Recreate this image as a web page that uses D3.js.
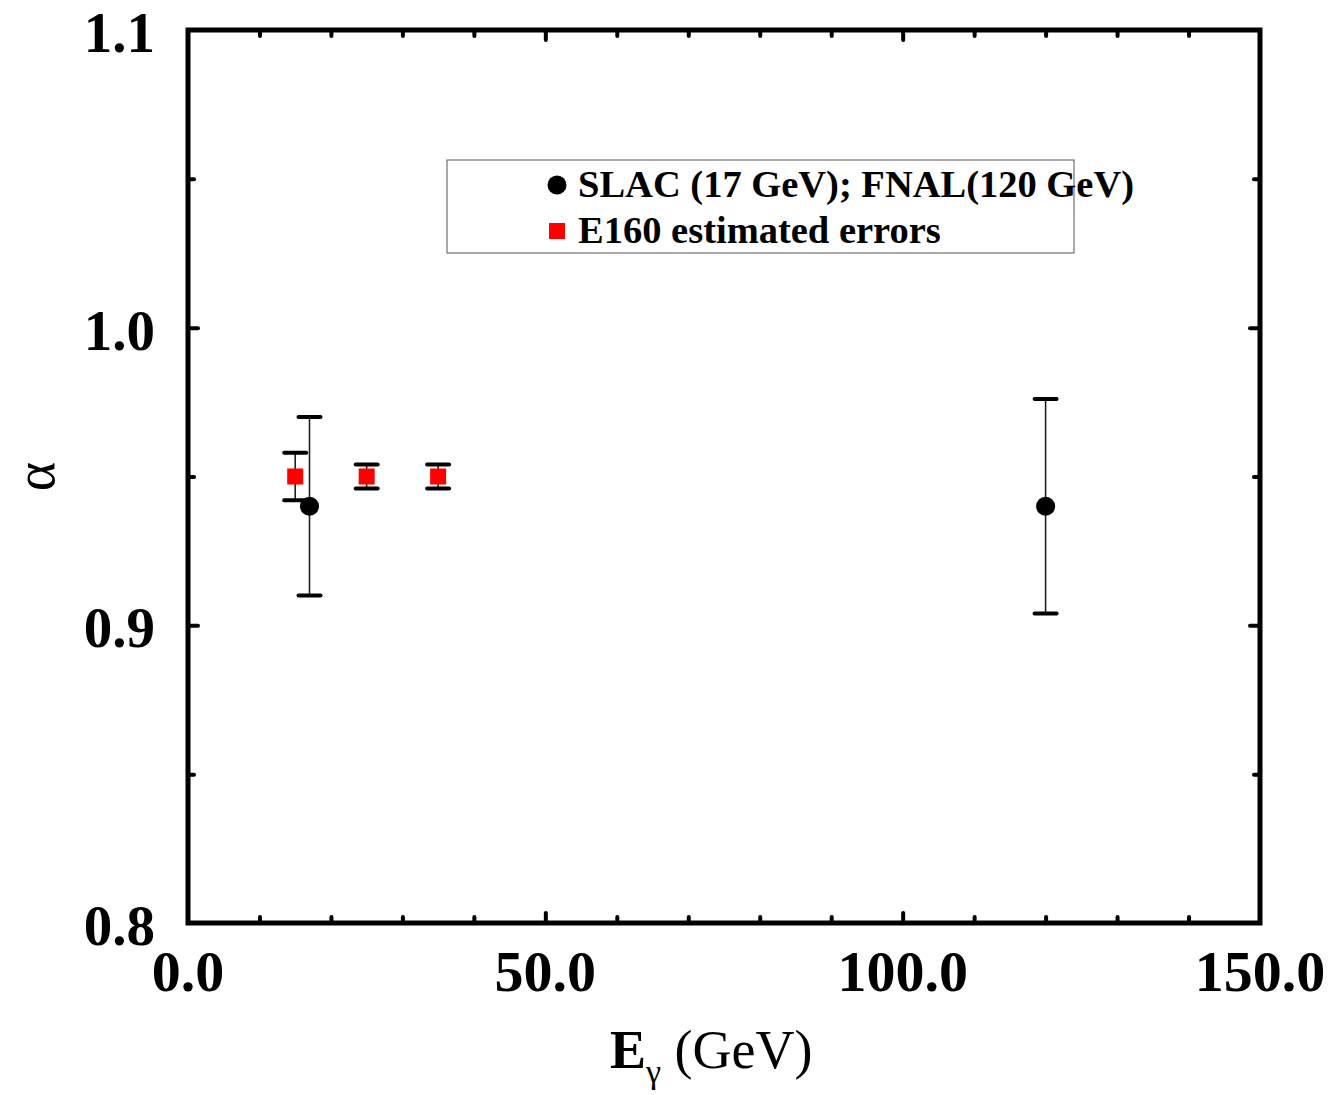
<!DOCTYPE html>
<html>
<head>
<meta charset="utf-8">
<script src="https://cdn.jsdelivr.net/npm/d3@7"></script>
<style>
  body { margin: 0; background: #fff; }
  svg text { font-family: "Liberation Serif", "Times New Roman", serif; }
</style>
</head>
<body>
<div class="canvas"></div>
<script>
// data
const slacX = [17, 120];
const slacY = [0.94, 0.94];
const slacErr = [0.030, 0.036];

const e160X = [15, 25, 35];
const e160Y = [0.95, 0.95, 0.95];
const e160Err = [0.008, 0.004, 0.004];

const xTicks = [0, 50, 100, 150];
const yTicks = [0.8, 0.9, 1.0, 1.1];
const legendLabels = ['SLAC (17 GeV); FNAL(120 GeV)', 'E160 estimated errors'];

const dims = { width: 1342, height: 1095 };
const margin = { left: 188, top: 30, right: 82, bottom: 172 };
const plotW = dims.width - margin.left - margin.right;
const plotH = dims.height - margin.top - margin.bottom;

const svg = d3.select('.canvas')
    .append('svg')
    .attr('width', dims.width)
    .attr('height', dims.height);

const x = d3.scaleLinear().domain([0, 150]).range([margin.left, margin.left + plotW]);
const y = d3.scaleLinear().domain([0.8, 1.1]).range([margin.top + plotH, margin.top]);

const minorX = d3.range(0, 151, 10).filter(v => v % 50 !== 0);
const minorY = [0.85, 0.95, 1.05];

// ticks (inside, on all four sides)
const tickStyle = (g) => {
    g.select('.domain').remove();
    g.selectAll('line').attr('stroke', '#000').attr('stroke-width', 4).attr('stroke-linecap', 'round');
    g.selectAll('text').remove();
};

svg.append('g').attr('transform', `translate(0,${y(0.8)})`)
    .call(d3.axisBottom(x).tickValues(xTicks.slice(1, -1)).tickSize(-10)).call(tickStyle);
svg.append('g').attr('transform', `translate(0,${y(0.8)})`)
    .call(d3.axisBottom(x).tickValues(minorX).tickSize(-6)).call(tickStyle);
svg.append('g').attr('transform', `translate(0,${y(1.1)})`)
    .call(d3.axisTop(x).tickValues(xTicks.slice(1, -1)).tickSize(-10)).call(tickStyle);
svg.append('g').attr('transform', `translate(0,${y(1.1)})`)
    .call(d3.axisTop(x).tickValues(minorX).tickSize(-6)).call(tickStyle);

svg.append('g').attr('transform', `translate(${x(0)},0)`)
    .call(d3.axisLeft(y).tickValues(yTicks.slice(1, -1)).tickSize(-10)).call(tickStyle);
svg.append('g').attr('transform', `translate(${x(0)},0)`)
    .call(d3.axisLeft(y).tickValues(minorY).tickSize(-6)).call(tickStyle);
svg.append('g').attr('transform', `translate(${x(150)},0)`)
    .call(d3.axisRight(y).tickValues(yTicks.slice(1, -1)).tickSize(-10)).call(tickStyle);
svg.append('g').attr('transform', `translate(${x(150)},0)`)
    .call(d3.axisRight(y).tickValues(minorY).tickSize(-6)).call(tickStyle);

// frame
svg.append('rect')
    .attr('x', x(0)).attr('y', y(1.1))
    .attr('width', x(150) - x(0)).attr('height', y(0.8) - y(1.1))
    .attr('fill', 'none').attr('stroke', '#000').attr('stroke-width', 5);

// tick labels
svg.append('g').selectAll('text')
    .data(xTicks).enter().append('text')
    .attr('x', d => x(d))
    .attr('y', y(0.8) + 68)
    .attr('text-anchor', 'middle')
    .attr('font-size', 58).attr('font-weight', 'bold')
    .text(d => d.toFixed(1));

svg.append('g').selectAll('text')
    .data(yTicks).enter().append('text')
    .attr('x', x(0) - 33)
    .attr('y', d => y(d) + 22)
    .attr('text-anchor', 'end')
    .attr('font-size', 57).attr('font-weight', 'bold')
    .text(d => d.toFixed(1));

// axis titles
const xt = svg.append('text')
    .attr('x', 610).attr('y', 1068)
    .attr('font-size', 54);
xt.append('tspan').attr('font-weight', 'bold').text('E');
xt.append('tspan').attr('font-size', 34).attr('dy', 15).text('γ');
xt.append('tspan').attr('dy', -15).text(' (GeV)');

svg.append('text')
    .attr('transform', `translate(54, ${y(0.95)}) rotate(-90)`)
    .attr('text-anchor', 'middle')
    .attr('font-size', 56)
    .text('α');

// error bars
const drawErr = (xs, ys, es) => {
    const g = svg.append('g');
    xs.forEach((xv, i) => {
        g.append('line')
            .attr('x1', x(xv)).attr('x2', x(xv))
            .attr('y1', y(ys[i] - es[i])).attr('y2', y(ys[i] + es[i]))
            .attr('stroke', '#222').attr('stroke-width', 1.6);
        [ys[i] - es[i], ys[i] + es[i]].forEach(v => {
            g.append('line')
                .attr('x1', x(xv) - 11).attr('x2', x(xv) + 11)
                .attr('y1', y(v)).attr('y2', y(v))
                .attr('stroke', '#000').attr('stroke-width', 4).attr('stroke-linecap', 'round');
        });
    });
};

drawErr(e160X, e160Y, e160Err);
drawErr(slacX, slacY, slacErr);

svg.append('g').selectAll('rect')
    .data(e160X).enter().append('rect')
    .attr('x', d => x(d) - 8)
    .attr('y', (d, i) => y(e160Y[i]) - 8)
    .attr('width', 16).attr('height', 16)
    .attr('fill', '#ff0000');

svg.append('g').selectAll('circle')
    .data(slacX).enter().append('circle')
    .attr('cx', d => x(d))
    .attr('cy', (d, i) => y(slacY[i]))
    .attr('r', 9.5)
    .attr('fill', '#000');

// legend
const legend = svg.append('g');
legend.append('rect')
    .attr('x', 447).attr('y', 160)
    .attr('width', 627).attr('height', 93)
    .attr('fill', 'none').attr('stroke', '#555').attr('stroke-width', 1);
legend.append('circle').attr('cx', 557).attr('cy', 185).attr('r', 9.5).attr('fill', '#000');
legend.append('rect').attr('x', 549).attr('y', 223).attr('width', 16).attr('height', 16).attr('fill', '#ff0000');
legend.selectAll('text.lab')
    .data(legendLabels).enter().append('text')
    .attr('class', 'lab')
    .attr('x', 578)
    .attr('y', (d, i) => 197 + i * 46)
    .attr('font-size', 38.5).attr('font-weight', 'bold')
    .text(d => d);
</script>
</body>
</html>
